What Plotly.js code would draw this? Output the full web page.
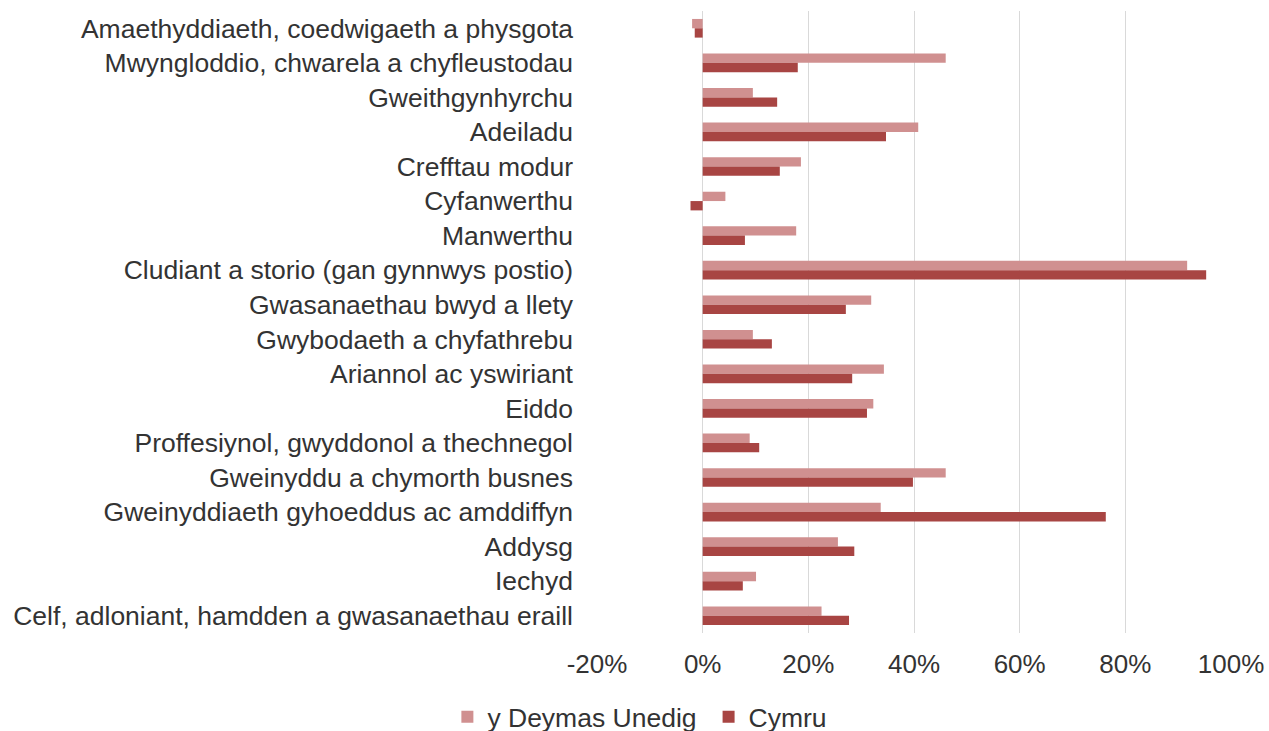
<!DOCTYPE html>
<html>
<head>
<meta charset="utf-8">
<script src="https://cdn.plot.ly/plotly-3.0.1.min.js"></script>
<style>html,body{margin:0;padding:0;background:#fff;}#chart{width:1269px;height:731px;}</style>
</head>
<body>
<div id="chart"></div>
<script>
const categories = [
  "Amaethyddiaeth, coedwigaeth a physgota",
  "Mwyngloddio, chwarela a chyfleustodau",
  "Gweithgynhyrchu",
  "Adeiladu",
  "Crefftau modur",
  "Cyfanwerthu",
  "Manwerthu",
  "Cludiant a storio (gan gynnwys postio)",
  "Gwasanaethau bwyd a llety",
  "Gwybodaeth a chyfathrebu",
  "Ariannol ac yswiriant",
  "Eiddo",
  "Proffesiynol, gwyddonol a thechnegol",
  "Gweinyddu a chymorth busnes",
  "Gweinyddiaeth gyhoeddus ac amddiffyn",
  "Addysg",
  "Iechyd",
  "Celf, adloniant, hamdden a gwasanaethau eraill"
];
const ukValues = [-2.0, 46.0, 9.5, 40.8, 18.6, 4.3, 17.7, 91.7, 31.9, 9.5, 34.3, 32.3, 8.9, 46.0, 33.7, 25.6, 10.1, 22.5];
const walesValues = [-1.5, 18.0, 14.1, 34.7, 14.6, -2.3, 8.0, 95.3, 27.1, 13.1, 28.3, 31.1, 10.7, 39.8, 76.3, 28.7, 7.6, 27.7];
const seriesNames = ["y Deymas Unedig", "Cymru"];
const xTickVals = [-20, 0, 20, 40, 60, 80, 100];
const xTickText = ["-20%", "0%", "20%", "40%", "60%", "80%", "100%"];

const font = "Liberation Sans, Arial, sans-serif";
const textColor = "#333333";
const traces = [
  {type: "bar", orientation: "h", name: seriesNames[0], y: categories, x: ukValues,
   marker: {color: "#D09090"}, legend: "legend"},
  {type: "bar", orientation: "h", name: seriesNames[1], y: categories, x: walesValues,
   marker: {color: "#A84543"}, legend: "legend2"}
];
const legendCommon = {orientation: "h", yanchor: "middle", xanchor: "left", y: -0.135,
  font: {family: font, size: 26.5, color: textColor}, itemwidth: 30, bgcolor: "rgba(0,0,0,0)"};
const layout = {
  width: 1269, height: 731,
  margin: {l: 597, r: 38, t: 11, b: 98, autoexpand: false},
  paper_bgcolor: "#fff", plot_bgcolor: "#fff",
  barmode: "group", bargap: 0.46, bargroupgap: 0,
  font: {family: font, color: textColor, size: 26},
  showlegend: true,
  legend: Object.assign({}, legendCommon, {x: -0.236}),
  legend2: Object.assign({}, legendCommon, {x: 0.176}),
  xaxis: {range: [-20, 100], tickvals: xTickVals, ticktext: xTickText,
          showgrid: true, gridcolor: "#D9D9D9", gridwidth: 1, zeroline: false,
          showline: false, ticks: "", ticklabelstandoff: 13,
          tickfont: {family: font, size: 26, color: textColor}, fixedrange: true},
  yaxis: {type: "category", autorange: "reversed", showgrid: false, zeroline: false,
          showline: false, ticks: "", ticklabelstandoff: 23,
          tickfont: {family: font, size: 26.5, color: textColor}, fixedrange: true}
};
Plotly.newPlot("chart", traces, layout, {displayModeBar: false, staticPlot: true});
</script>
</body>
</html>
